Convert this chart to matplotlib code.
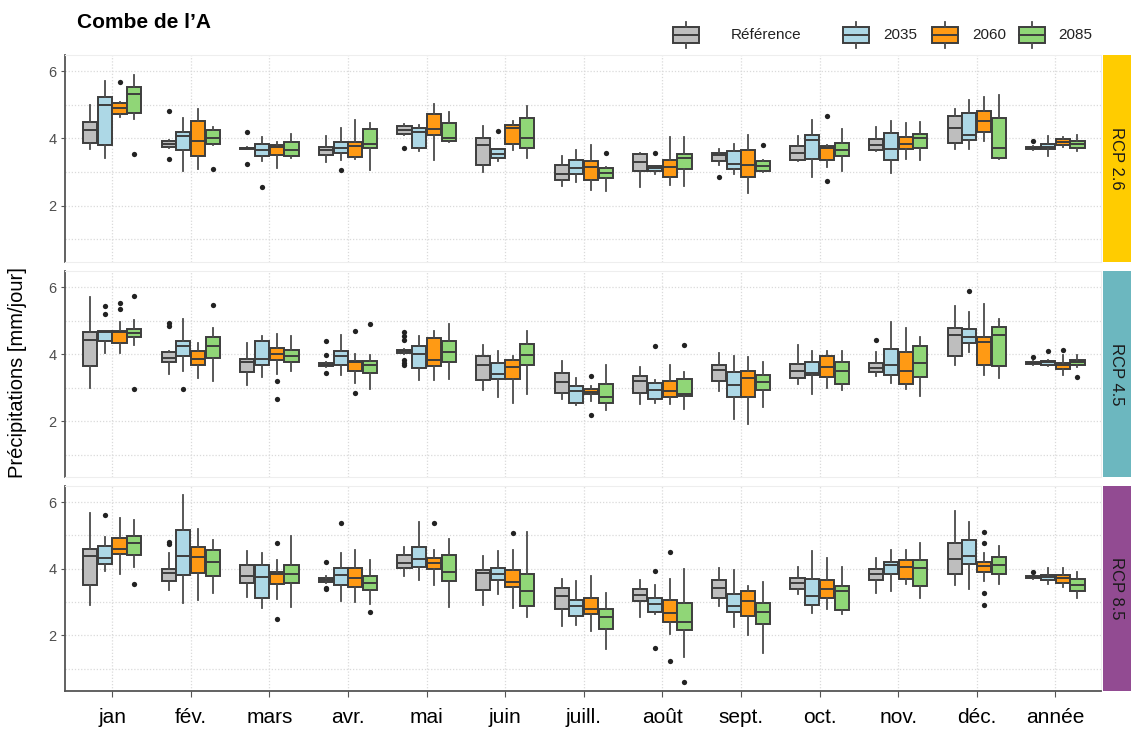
import matplotlib
matplotlib.use("Agg")
import matplotlib.pyplot as plt
from matplotlib.patches import Rectangle

plt.rcParams["font.family"] = ["Liberation Sans", "DejaVu Sans"]

months = ["jan", "fév.", "mars", "avr.", "mai", "juin", "juill.",
          "août", "sept.", "oct.", "nov.", "déc.", "année"]
scenarios = ["Référence", "2035", "2060", "2085"]
colors = ["#BEBEBE", "#ADD8E6", "#FF9A14", "#90D677"]
rcp_names = ["RCP 2.6", "RCP 4.5", "RCP 8.5"]
strip_colors = ["#FFCC00", "#6CB7BF", "#924B92"]

# box stats, rows = scenarios, columns = months
rcp26_lo = [
    [3.68, 3.72, 3.69, 3.31, 4.11, 3.01, 2.58, 2.57, 3.20, 3.32, 3.62, 3.68, 3.67],
    [3.43, 3.03, 3.33, 3.37, 3.63, 3.33, 2.71, 2.95, 2.95, 2.87, 2.97, 3.70, 3.47],
    [4.63, 3.08, 3.11, 3.40, 3.36, 3.66, 2.48, 2.63, 2.38, 3.15, 3.40, 3.93, 3.75],
    [4.58, 3.81, 3.41, 3.05, 3.91, 3.43, 2.45, 2.59, 3.00, 3.02, 3.35, 3.40, 3.63],
]
rcp26_q1 = [
    [3.88, 3.75, 3.70, 3.51, 4.13, 3.22, 2.77, 3.03, 3.32, 3.37, 3.65, 3.88, 3.69],
    [3.82, 3.65, 3.47, 3.57, 3.72, 3.43, 2.93, 3.03, 3.08, 3.40, 3.37, 3.95, 3.68],
    [4.73, 3.47, 3.52, 3.46, 4.11, 3.85, 2.78, 2.85, 2.85, 3.37, 3.68, 4.20, 3.82],
    [4.76, 3.83, 3.47, 3.71, 3.93, 3.73, 2.82, 3.10, 3.03, 3.47, 3.72, 3.42, 3.73],
]
rcp26_med = [
    [4.25, 3.83, 3.71, 3.66, 4.25, 3.80, 2.93, 3.30, 3.52, 3.57, 3.80, 4.32, 3.73],
    [4.98, 4.08, 3.66, 3.73, 4.18, 3.53, 3.11, 3.13, 3.23, 3.95, 3.68, 4.10, 3.75],
    [4.91, 3.93, 3.76, 3.78, 4.28, 4.31, 3.15, 3.15, 3.20, 3.73, 3.85, 4.53, 3.90],
    [5.33, 4.01, 3.66, 3.85, 4.01, 4.00, 2.97, 3.43, 3.18, 3.67, 4.00, 3.73, 3.85],
]
rcp26_q3 = [
    [4.50, 3.93, 3.73, 3.76, 4.36, 4.00, 3.21, 3.53, 3.58, 3.78, 3.97, 4.68, 3.75],
    [5.23, 4.20, 3.85, 3.90, 4.31, 3.68, 3.36, 3.17, 3.63, 4.10, 4.17, 4.75, 3.83],
    [5.06, 4.53, 3.81, 3.91, 4.73, 4.41, 3.32, 3.37, 3.67, 3.78, 4.05, 4.82, 3.97],
    [5.53, 4.26, 3.91, 4.28, 4.46, 4.60, 3.12, 3.55, 3.32, 3.88, 4.14, 4.60, 3.93],
]
rcp26_hi = [
    [4.98, 3.95, 3.74, 4.06, 4.43, 4.36, 3.48, 3.58, 3.68, 4.07, 4.35, 4.88, 3.77],
    [5.71, 4.60, 4.03, 4.30, 4.41, 3.70, 3.66, 3.19, 3.85, 4.55, 4.52, 5.13, 4.08],
    [5.08, 4.88, 3.91, 4.55, 5.03, 4.51, 3.82, 4.03, 4.10, 3.80, 4.45, 5.22, 4.03],
    [5.90, 4.33, 4.13, 4.47, 4.80, 4.97, 3.15, 4.05, 3.37, 4.28, 4.48, 5.30, 4.09],
]
rcp26_fliers = [
    ("fév.", "Référence", 4.83), ("fév.", "Référence", 3.38),
    ("mars", "Référence", 4.18), ("mars", "Référence", 3.25),
    ("mai", "Référence", 3.73), ("sept.", "Référence", 2.85),
    ("année", "Référence", 3.93), ("mars", "2035", 2.55),
    ("avr.", "2035", 3.05), ("juin", "2035", 4.21), ("août", "2035", 3.58),
    ("jan", "2060", 5.68), ("oct.", "2060", 4.68), ("oct.", "2060", 2.73),
    ("jan", "2085", 3.53), ("fév.", "2085", 3.10), ("juill.", "2085", 3.58),
    ("sept.", "2085", 3.82),
]

rcp45_lo = [
    [2.98, 3.40, 3.09, 3.62, 4.00, 2.93, 2.65, 2.52, 2.90, 3.10, 3.35, 3.68, 3.67],
    [4.02, 3.50, 3.32, 3.38, 3.22, 2.72, 2.47, 2.55, 2.07, 2.80, 3.15, 4.07, 3.65],
    [4.03, 3.30, 3.40, 3.13, 3.22, 2.55, 2.60, 2.50, 1.92, 3.00, 2.95, 3.39, 3.37],
    [4.27, 3.20, 3.48, 2.97, 3.27, 2.80, 2.33, 2.35, 2.42, 2.93, 2.75, 3.29, 3.60],
]
rcp45_q1 = [
    [3.63, 3.77, 3.45, 3.65, 4.03, 3.23, 2.83, 2.83, 3.20, 3.30, 3.47, 3.93, 3.69],
    [4.40, 3.94, 3.67, 3.68, 3.58, 3.25, 2.55, 2.65, 2.73, 3.37, 3.37, 4.33, 3.67],
    [4.33, 3.67, 3.83, 3.48, 3.65, 3.25, 2.80, 2.72, 2.72, 3.32, 3.10, 3.67, 3.54],
    [4.50, 3.88, 3.75, 3.42, 3.77, 3.68, 2.53, 2.75, 2.92, 3.10, 3.32, 3.65, 3.67],
]
rcp45_med = [
    [4.43, 3.87, 3.75, 3.68, 4.08, 3.68, 3.17, 3.20, 3.53, 3.50, 3.58, 4.57, 3.73],
    [4.65, 4.25, 3.85, 3.95, 4.00, 3.40, 2.90, 2.92, 3.07, 3.42, 3.67, 4.50, 3.75],
    [4.65, 3.85, 4.00, 3.75, 3.83, 3.62, 2.88, 2.90, 3.28, 3.60, 3.49, 4.35, 3.68],
    [4.63, 4.23, 3.95, 3.67, 4.07, 3.97, 2.72, 2.82, 3.18, 3.48, 3.72, 4.57, 3.75],
]
rcp45_q3 = [
    [4.65, 4.05, 3.85, 3.72, 4.13, 3.95, 3.44, 3.35, 3.67, 3.70, 3.73, 4.77, 3.77],
    [4.68, 4.39, 4.38, 4.08, 4.25, 3.72, 3.05, 3.15, 3.47, 3.77, 4.14, 4.75, 3.79],
    [4.68, 4.09, 4.17, 3.80, 4.48, 3.82, 2.97, 3.19, 3.50, 3.95, 4.05, 4.52, 3.72],
    [4.75, 4.50, 4.12, 3.79, 4.40, 4.29, 3.12, 3.27, 3.37, 3.75, 4.25, 4.82, 3.82],
]
rcp45_hi = [
    [5.70, 4.10, 4.32, 3.75, 4.16, 4.27, 3.80, 3.60, 4.02, 4.27, 4.07, 5.43, 3.79],
    [4.70, 5.05, 4.55, 4.57, 4.55, 4.10, 3.28, 3.22, 3.95, 4.10, 4.95, 5.25, 3.81],
    [4.97, 4.32, 4.60, 4.00, 4.70, 3.95, 3.05, 3.67, 3.92, 4.10, 4.78, 5.48, 3.97],
    [5.02, 4.78, 4.53, 3.98, 4.90, 4.68, 3.67, 3.45, 3.75, 4.10, 4.50, 5.05, 3.97],
]
rcp45_fliers = [
    ("fév.", "Référence", 4.93), ("fév.", "Référence", 4.83),
    ("avr.", "Référence", 4.38), ("avr.", "Référence", 3.98),
    ("avr.", "Référence", 3.43), ("mai", "Référence", 4.67),
    ("mai", "Référence", 4.55), ("mai", "Référence", 4.43),
    ("mai", "Référence", 3.82), ("mai", "Référence", 3.73),
    ("mai", "Référence", 3.68), ("nov.", "Référence", 4.42),
    ("année", "Référence", 3.90), ("jan", "2035", 5.45), ("jan", "2035", 5.19),
    ("fév.", "2035", 2.95), ("août", "2035", 4.23), ("déc.", "2035", 5.88),
    ("année", "2035", 4.08), ("jan", "2060", 5.52), ("jan", "2060", 5.35),
    ("mars", "2060", 3.20), ("mars", "2060", 2.65), ("avr.", "2060", 4.70),
    ("avr.", "2060", 2.85), ("juill.", "2060", 3.35), ("juill.", "2060", 2.18),
    ("année", "2060", 4.12), ("jan", "2085", 5.73), ("jan", "2085", 2.95),
    ("fév.", "2085", 5.47), ("avr.", "2085", 4.90), ("août", "2085", 4.28),
    ("année", "2085", 3.32),
]

rcp85_lo = [
    [2.90, 3.35, 3.16, 3.58, 3.78, 2.91, 2.28, 2.56, 2.88, 3.25, 3.26, 3.51, 3.69],
    [3.93, 2.98, 2.83, 3.03, 3.65, 3.25, 2.30, 2.63, 2.26, 2.68, 3.33, 3.38, 3.55],
    [3.83, 3.06, 3.10, 3.00, 3.52, 2.81, 2.13, 2.03, 2.01, 2.78, 3.53, 3.63, 3.45],
    [4.06, 3.28, 2.86, 2.95, 2.86, 2.55, 1.58, 1.36, 1.46, 2.63, 3.13, 3.55, 3.11],
]
rcp85_q1 = [
    [3.52, 3.63, 3.58, 3.61, 4.01, 3.35, 2.80, 3.03, 3.13, 3.40, 3.65, 3.85, 3.71],
    [4.13, 3.81, 3.13, 3.50, 4.05, 3.65, 2.58, 2.70, 2.71, 2.91, 3.83, 4.15, 3.66],
    [4.45, 3.86, 3.53, 3.46, 4.00, 3.46, 2.63, 2.40, 2.58, 3.11, 3.70, 3.91, 3.56],
    [4.42, 3.79, 3.56, 3.35, 3.62, 2.88, 2.20, 2.15, 2.33, 2.76, 3.48, 3.85, 3.33],
]
rcp85_med = [
    [4.38, 3.86, 3.78, 3.66, 4.18, 3.86, 3.18, 3.21, 3.41, 3.58, 3.83, 4.28, 3.74],
    [4.33, 4.38, 3.75, 3.81, 4.30, 3.85, 2.88, 2.93, 2.88, 3.18, 4.10, 4.38, 3.75],
    [4.58, 4.36, 3.83, 3.71, 4.16, 3.60, 2.80, 2.66, 3.02, 3.40, 4.05, 4.08, 3.73],
    [4.78, 4.21, 3.83, 3.56, 3.91, 3.33, 2.55, 2.41, 2.70, 3.32, 4.01, 4.11, 3.52],
]
rcp85_q3 = [
    [4.60, 4.00, 4.12, 3.71, 4.40, 3.96, 3.43, 3.40, 3.65, 3.73, 3.98, 4.76, 3.77],
    [4.68, 5.15, 4.11, 4.03, 4.64, 4.03, 3.06, 3.13, 3.23, 3.70, 4.20, 4.86, 3.81],
    [4.92, 4.65, 3.90, 4.03, 4.33, 3.95, 3.13, 3.05, 3.33, 3.66, 4.26, 4.20, 3.81],
    [4.98, 4.55, 4.12, 3.78, 4.42, 3.85, 2.78, 2.98, 2.98, 3.47, 4.25, 4.35, 3.70],
]
rcp85_hi = [
    [5.68, 4.48, 4.53, 3.78, 4.65, 4.38, 3.70, 3.66, 4.03, 4.05, 4.31, 5.73, 3.79],
    [4.95, 6.20, 4.48, 4.46, 5.40, 4.53, 3.63, 3.50, 3.96, 4.53, 4.55, 5.41, 4.02],
    [5.51, 5.20, 4.26, 4.55, 4.56, 4.56, 3.78, 3.70, 3.48, 4.33, 4.55, 4.46, 4.03],
    [5.46, 4.86, 4.98, 4.26, 4.88, 5.11, 3.28, 3.98, 3.61, 4.05, 4.76, 4.68, 3.91],
]
rcp85_fliers = [
    ("fév.", "Référence", 4.80), ("fév.", "Référence", 4.75),
    ("avr.", "Référence", 4.21), ("avr.", "Référence", 3.43),
    ("avr.", "Référence", 3.38), ("année", "Référence", 3.91),
    ("jan", "2035", 5.61), ("avr.", "2035", 5.36), ("août", "2035", 3.93),
    ("août", "2035", 1.63), ("mars", "2060", 4.78), ("mars", "2060", 2.50),
    ("mai", "2060", 5.38), ("juin", "2060", 5.08), ("août", "2060", 4.50),
    ("août", "2060", 1.23), ("déc.", "2060", 5.11), ("déc.", "2060", 4.78),
    ("déc.", "2060", 3.28), ("déc.", "2060", 2.91), ("jan", "2085", 3.53),
    ("avr.", "2085", 2.70), ("août", "2085", 0.61),
]

panels = [
    (rcp26_lo, rcp26_q1, rcp26_med, rcp26_q3, rcp26_hi, rcp26_fliers),
    (rcp45_lo, rcp45_q1, rcp45_med, rcp45_q3, rcp45_hi, rcp45_fliers),
    (rcp85_lo, rcp85_q1, rcp85_med, rcp85_q3, rcp85_hi, rcp85_fliers),
]

W, H = 1131, 734
fig = plt.figure(figsize=(W / 100, H / 100), dpi=100)

edge = "#3d3d3d"
offsets = [-0.281, -0.094, 0.094, 0.281]
panel_px = [(55, 262), (271, 477), (486, 691)]
left_px, right_px = 65, 1101

axes = []
for p, (top, bot) in enumerate(panel_px):
    ax = fig.add_axes([left_px / W, 1 - bot / H, (right_px - left_px) / W, (bot - top) / H])
    lo, q1, med, q3, hi, fl = panels[p]
    for s in range(len(scenarios)):
        stats = []
        for m in range(len(months)):
            stats.append(dict(
                whislo=lo[s][m], q1=q1[s][m], med=med[s][m], q3=q3[s][m], whishi=hi[s][m],
                fliers=[v for (mm, ss, v) in fl if mm == months[m] and ss == scenarios[s]],
            ))
        ax.bxp(stats, positions=[m + 1 + offsets[s] for m in range(len(months))],
               widths=0.18, patch_artist=True, showcaps=False,
               boxprops=dict(facecolor=colors[s], edgecolor=edge, linewidth=1.4),
               medianprops=dict(color=edge, linewidth=1.4),
               whiskerprops=dict(color="#4a4a4a", linewidth=1.3),
               flierprops=dict(marker="o", markerfacecolor="#222222",
                               markeredgecolor="none", markersize=3.8),
               manage_ticks=False, zorder=3)

    ax.set_xlim(0.4, 13.58)
    ax.set_ylim(0.33, 6.48)
    ax.set_yticks([2, 4, 6])
    ax.set_yticks([1, 3, 5], minor=True)
    ax.set_xticks(range(1, len(months) + 1))
    ax.grid(True, which="both", color="#DADADA", linestyle=(0, (1, 1.5)), linewidth=0.9)
    ax.set_axisbelow(True)
    ax.tick_params(axis="y", which="major", length=3, color="#555555",
                   labelsize=10.5, labelcolor="#4D4D4D", pad=3)
    ax.tick_params(axis="y", which="minor", length=0)
    for sp in ["top", "right", "bottom"]:
        ax.spines[sp].set_color("#EEEEEE")
        ax.spines[sp].set_linewidth(0.8)
    ax.spines["left"].set_color("#555555")
    ax.spines["left"].set_linewidth(1.3)
    if p < 2:
        ax.tick_params(axis="x", length=0, labelbottom=False)
    else:
        ax.spines["bottom"].set_color("#555555")
        ax.spines["bottom"].set_linewidth(1.3)
        ax.set_xticklabels(months)
        ax.tick_params(axis="x", length=4, color="#555555", labelsize=15,
                       labelcolor="black", pad=8)

    # strip on the right
    sax = fig.add_axes([1103 / W, 1 - bot / H, (W - 1103) / W, (bot - top) / H])
    sax.set_facecolor(strip_colors[p])
    sax.set_xticks([])
    sax.set_yticks([])
    for sp in sax.spines.values():
        sp.set_visible(False)
    sax.text(0.5, 0.5, rcp_names[p], rotation=-90, ha="center", va="center",
             fontsize=12, color="#1A1A1A", transform=sax.transAxes)
    axes.append(ax)

fig.text(18 / W, 1 - 373 / H, "Précipitations [mm/jour]", rotation=90,
         ha="center", va="center", fontsize=14.5)
fig.text(77 / W, 1 - 22 / H, "Combe de l’A", ha="left", va="center",
         fontsize=15, fontweight="bold")

# legend drawn in pixel coordinates
lax = fig.add_axes([0, 0, 1, 1], zorder=5)
lax.set_xlim(0, W)
lax.set_ylim(H, 0)
lax.axis("off")
lax.add_patch(Rectangle((660, 14), 440, 40, facecolor="white", edgecolor="none"))
glyph_x = [673, 843, 932, 1019]
text_x = [731, 883, 972, 1058]
for s in range(len(scenarios)):
    x0 = glyph_x[s]
    lax.add_patch(Rectangle((x0, 27), 26, 16, facecolor=colors[s], edgecolor=edge, linewidth=1.4))
    lax.plot([x0, x0 + 26], [35, 35], color=edge, linewidth=1.4)
    lax.plot([x0 + 13, x0 + 13], [22, 27], color="#4a4a4a", linewidth=1.3)
    lax.plot([x0 + 13, x0 + 13], [43, 48], color="#4a4a4a", linewidth=1.3)
    lax.text(text_x[s], 35, scenarios[s], ha="left", va="center", fontsize=11, color="#222222")

fig.savefig("out.png", dpi=100)
